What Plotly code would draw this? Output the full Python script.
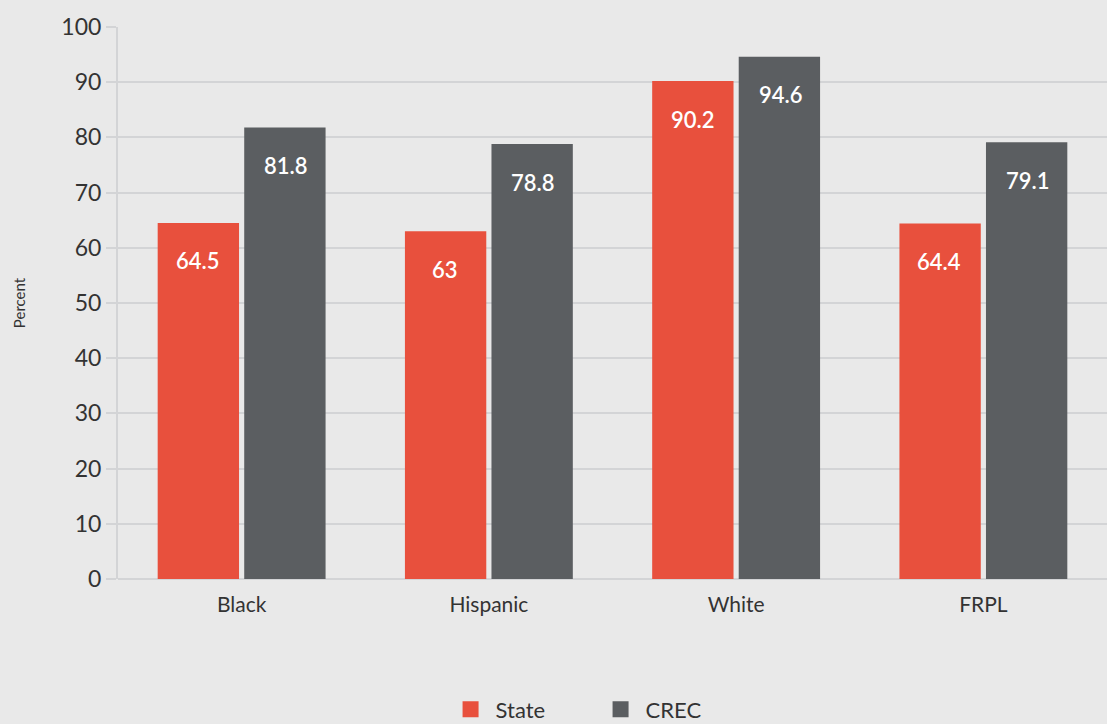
import plotly.graph_objects as go

categories = ["Black", "Hispanic", "White", "FRPL"]
state_values = [64.5, 63, 90.2, 64.4]
crec_values = [81.8, 78.8, 94.6, 79.1]
state_labels = ["64.5", "63", "90.2", "64.4"]
crec_labels = ["81.8", "78.8", "94.6", "79.1"]
y_ticks = [0, 10, 20, 30, 40, 50, 60, 70, 80, 90, 100]

RED = "#e8503d"
GRAY = "#5b5e61"
BG = "#e9e9e9"
GRID = "#d3d4d6"
FONT = "Lato"
TXT = "#333333"

fig = go.Figure()
fig.add_trace(go.Bar(name="State", x=categories, y=state_values, marker_color=RED,
                     marker_line_width=0, showlegend=False))
fig.add_trace(go.Bar(name="CREC", x=categories, y=crec_values, marker_color=GRAY,
                     marker_line_width=0, showlegend=False))
# legend entries with square swatches
fig.add_trace(go.Scatter(name="State", x=[None], y=[None], mode="markers",
                         marker=dict(symbol="square", size=26, color=RED)))
fig.add_trace(go.Scatter(name="CREC", x=[None], y=[None], mode="markers",
                         marker=dict(symbol="square", size=26, color=GRAY)))

lab_font = dict(color="white", size=22, family=FONT, weight=600)
annotations = []
for cat, v, t in zip(categories, state_values, state_labels):
    annotations.append(dict(x=cat, y=v, text=t, showarrow=False, xshift=-44, yshift=-38,
                            yanchor="middle", font=lab_font))
for cat, v, t in zip(categories, crec_values, crec_labels):
    annotations.append(dict(x=cat, y=v, text=t, showarrow=False, xshift=44, yshift=-38,
                            yanchor="middle", font=lab_font))

fig.update_layout(
    width=1107, height=724,
    paper_bgcolor=BG, plot_bgcolor=BG,
    margin=dict(l=118, r=0, t=27, b=145, autoexpand=False),
    barmode="group", bargap=0.3, bargroupgap=0.06,
    font=dict(family=FONT, color=TXT),
    showlegend=True,
    legend=dict(orientation="h", xref="container", yref="container",
                x=0.538, xanchor="center", y=0.02, yanchor="middle",
                font=dict(size=22, color=TXT), bgcolor="rgba(0,0,0,0)",
                itemsizing="trace", traceorder="normal", itemwidth=40,
                entrywidth=95, entrywidthmode="pixels"),
    annotations=annotations,
)
fig.update_yaxes(range=[0, 100], tickvals=y_ticks, showgrid=True, gridcolor=GRID, gridwidth=2,
                 ticks="outside", ticklen=10, tickcolor=GRID, tickwidth=2,
                 showline=True, linecolor=GRID, linewidth=2,
                 zeroline=True, zerolinecolor=GRID, zerolinewidth=2,
                 tickfont=dict(size=23, color=TXT),
                 title=dict(text="Percent", font=dict(size=15, color=TXT), standoff=32))
fig.update_xaxes(showgrid=False, ticks="", tickfont=dict(size=21, color=TXT),
                 showline=False, ticklabelstandoff=11)

fig.write_html("out.html", config={"displayModeBar": False},
               post_script="document.body.style.margin='0';document.body.style.overflow='hidden';")
